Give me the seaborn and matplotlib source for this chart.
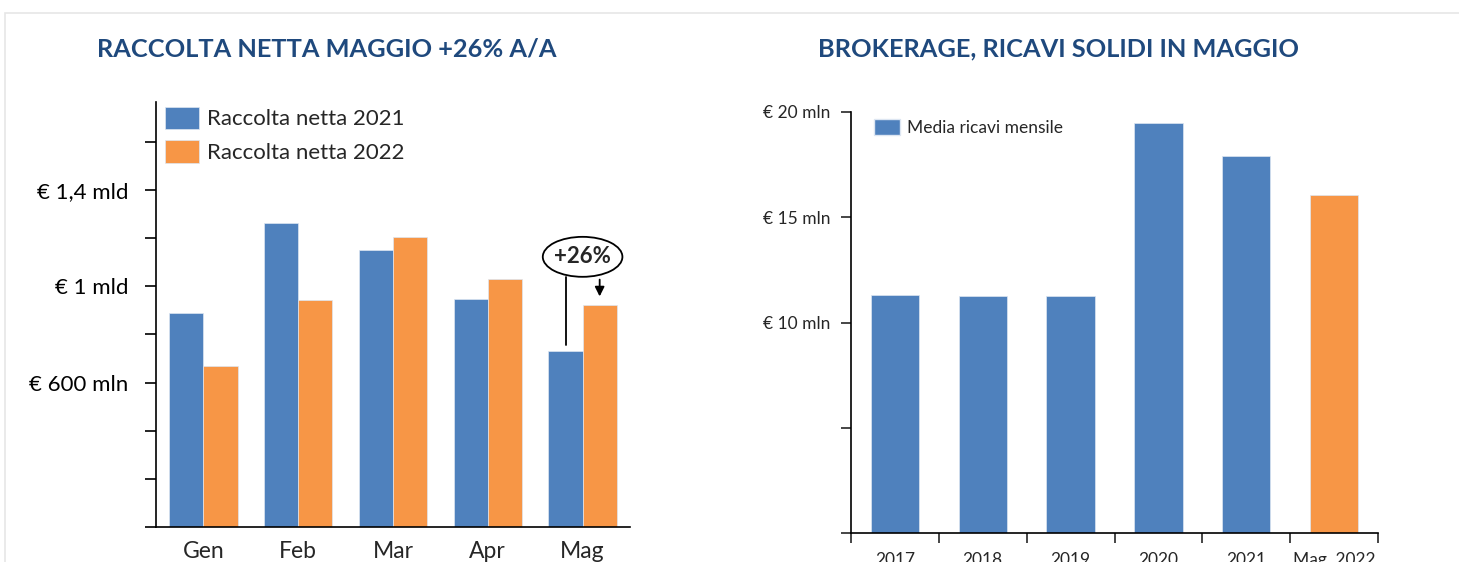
import matplotlib
matplotlib.use("Agg")
import matplotlib.pyplot as plt
import seaborn as sns
import pandas as pd
from matplotlib.patches import Ellipse, Patch, Rectangle

# Left chart data (mln EUR)
mesi = ["Gen", "Feb", "Mar", "Apr", "Mag"]
raccolta_2021 = [888, 1262, 1151, 946, 731]
raccolta_2022 = [669, 943, 1206, 1032, 924]

# Right chart data (mln EUR)
anni = ["2017", "2018", "2019", "2020", "2021", "Mag. 2022"]
ricavi_medi = [11.30, 11.25, 11.25, 19.46, 17.89, 16.05]

BLUE = "#4F81BD"
ORANGE = "#F79646"
TITLE = "#1F497D"

sns.set_style("white")
plt.rcParams["font.family"] = ["Lato", "DejaVu Sans"]

fig = plt.figure(figsize=(14.59, 5.62), dpi=100)
fig.patches.append(Rectangle((0.0035, -0.1), 1.2, 1.1 - 13 / 562, transform=fig.transFigure,
                             fill=False, edgecolor="#E6E6E6", linewidth=1.2))

# ---- left: raccolta netta
ax1 = fig.add_axes([156 / 1459, 35 / 562, 474 / 1459, 425 / 562])
df1 = pd.DataFrame({
    "mese": mesi * 2,
    "valore": raccolta_2021 + raccolta_2022,
    "serie": ["Raccolta netta 2021"] * 5 + ["Raccolta netta 2022"] * 5,
})
sns.barplot(data=df1, x="mese", y="valore", hue="serie", palette=[BLUE, ORANGE],
            width=0.72, saturation=1, ax=ax1, edgecolor="#DDE6F2", linewidth=0.5)
ax1.set_xlim(-0.5, 4.5)
ax1.set_ylim(0, 1765)
yt = list(range(0, 1800, 200))
ax1.set_yticks(yt)
ax1.set_yticklabels(["€ 600 mln" if v == 600 else "€ 1 mld" if v == 1000 else
                     "€ 1,4 mld" if v == 1400 else "" for v in yt])
ax1.tick_params(axis="y", direction="out", length=8, width=1.2, pad=12, labelsize=16,
                left=True, colors="black")
ax1.tick_params(axis="x", length=0, labelsize=16.5, pad=10)
ax1.set_xlabel("")
ax1.set_ylabel("")
for s in ["top", "right"]:
    ax1.spines[s].set_visible(False)
for s in ["left", "bottom"]:
    ax1.spines[s].set_color("black")
    ax1.spines[s].set_linewidth(1.2)
ax1.legend(loc="upper left", bbox_to_anchor=(0.0, 1.01), frameon=False, fontsize=16,
           handlelength=1.53, handleheight=1.17, handletextpad=0.35, labelspacing=0.5,
           borderaxespad=0)

# +26% callout
cx = 4
cy = 1122
ax1.add_patch(Ellipse((cx, cy), 0.84, 166, fill=False, edgecolor="black", linewidth=1.3,
                      clip_on=False, zorder=5))
ax1.text(cx, cy, "+26%", ha="center", va="center", fontsize=16, fontweight="bold", zorder=6)
ax1.plot([cx - 0.18, cx - 0.18], [cy - 83, raccolta_2021[-1] + 25], color="black", lw=1.3)
ax1.annotate("", xy=(cx + 0.18, raccolta_2022[-1] + 22), xytext=(cx + 0.18, cy - 83),
             arrowprops=dict(arrowstyle="-|>", color="black", lw=1.3, mutation_scale=14))

fig.text(327 / 1459, 1 - 49 / 562, "RACCOLTA NETTA MAGGIO +26% A/A", ha="center", va="center",
         fontsize=18.3, fontweight="bold", color=TITLE)

# ---- right: brokerage
ax2 = fig.add_axes([851 / 1459, 29 / 562, 527 / 1459, 421 / 562])
df2 = pd.DataFrame({"anno": anni, "ricavi": ricavi_medi})
sns.barplot(data=df2, x="anno", y="ricavi", hue="anno",
            palette=[BLUE] * 5 + [ORANGE], width=0.55, saturation=1, ax=ax2, legend=False,
            edgecolor="#DDE6F2", linewidth=0.5)
ax2.set_xlim(-0.5, 5.5)
ax2.set_ylim(0, 20)
ax2.set_yticks([0, 5, 10, 15, 20])
ax2.set_yticklabels(["", "", "€ 10 mln", "€ 15 mln", "€ 20 mln"])
ax2.set_xticks(range(len(anni)))
ax2.set_xticks([i - 0.5 for i in range(len(anni) + 1)], minor=True)
ax2.tick_params(axis="x", which="major", length=0, labelsize=12.5, pad=14)
ax2.tick_params(axis="x", which="minor", direction="out", length=7, width=1.2, bottom=True)
ax2.tick_params(axis="y", direction="out", length=7, width=1.2, left=True, labelsize=12.5, pad=8)
ax2.set_xlabel("")
ax2.set_ylabel("")
for s in ["top", "right"]:
    ax2.spines[s].set_visible(False)
for s in ["left", "bottom"]:
    ax2.spines[s].set_color("black")
    ax2.spines[s].set_linewidth(1.2)
ax2.legend(handles=[Patch(facecolor=BLUE, edgecolor="#DDE6F2", label="Media ricavi mensile")],
           loc="upper left", bbox_to_anchor=(0.03, 1.0), frameon=False, fontsize=12.5,
           handlelength=1.5, handleheight=1.05, handletextpad=0.4, borderaxespad=0)

fig.text(1058 / 1459, 1 - 49 / 562, "BROKERAGE, RICAVI SOLIDI IN MAGGIO", ha="center",
         va="center", fontsize=18.3, fontweight="bold", color=TITLE)

fig.savefig("out.png", dpi=100)
